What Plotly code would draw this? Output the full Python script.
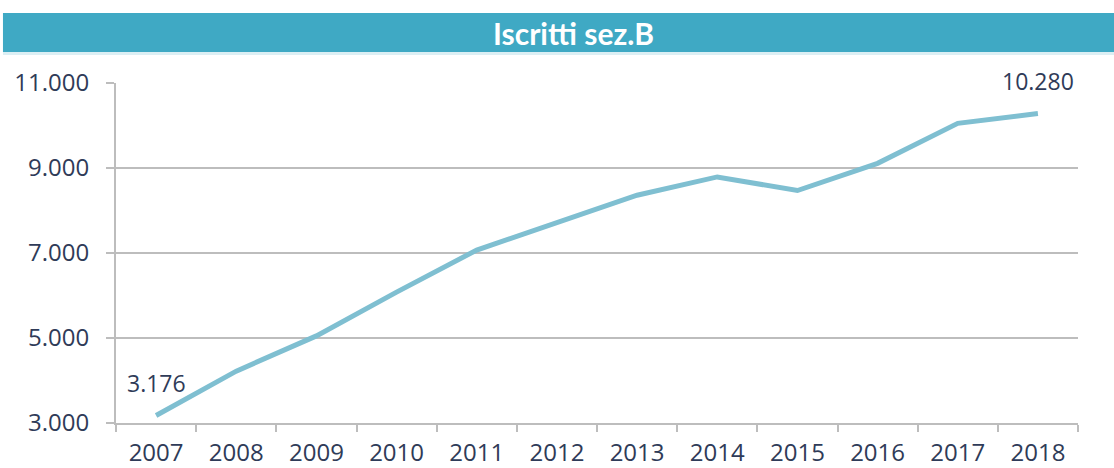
import plotly.graph_objects as go

years = ["2007", "2008", "2009", "2010", "2011", "2012", "2013", "2014", "2015", "2016", "2017", "2018"]
iscritti = [3176, 4220, 5050, 6080, 7070, 7730, 8360, 8790, 8470, 9110, 10050, 10280]
labels = ["3.176", "10.280"]
y_ticks = [3000, 5000, 7000, 9000, 11000]
y_tick_text = ["3.000", "5.000", "7.000", "9.000", "11.000"]
title_text = "Iscritti sez.B"

TEXT = "#2F3B58"
GRID = "#BDBDBD"
LINE = "#7FBFD1"
BAR = "#3FA9C4"

fig = go.Figure()
fig.add_trace(go.Scatter(
    x=years, y=iscritti, mode="lines",
    line=dict(color=LINE, width=5),
    hoverinfo="skip", showlegend=False,
))

for idx, lab in zip([0, len(years) - 1], labels):
    fig.add_annotation(
        x=idx, y=iscritti[idx], text=lab, showarrow=False,
        yshift=33, xanchor="center", yanchor="middle",
        font=dict(family="Open Sans", size=23, color=TEXT),
    )

fig.add_shape(type="rect", xref="paper", yref="paper",
              x0=-0.1175, x1=1.04, y0=1.091, y1=1.206,
              fillcolor=BAR, line=dict(width=0), layer="below")
fig.add_shape(type="rect", xref="paper", yref="paper",
              x0=-0.1175, x1=1.04, y0=1.082, y1=1.091,
              fillcolor="#DCEFF4", line=dict(width=0), layer="below")
fig.add_annotation(
    xref="paper", yref="paper", x=0.4760, y=1.148, text="<b>" + title_text + "</b>",
    showarrow=False, xanchor="center", yanchor="middle",
    font=dict(family="Lato", size=30, color="white"),
)

fig.update_layout(
    width=1114, height=468,
    margin=dict(l=116, r=36, t=83, b=45),
    paper_bgcolor="white", plot_bgcolor="white",
    xaxis=dict(
        type="category", tickson="boundaries", ticks="outside", ticklen=7,
        tickcolor=GRID, tickwidth=2, showgrid=False,
        showline=True, linecolor=GRID, linewidth=2,
        tickfont=dict(family="Open Sans", size=24, color=TEXT),
        range=[-0.5, len(years) - 0.5],
        automargin=False, ticklabelstandoff=7,
    ),
    yaxis=dict(
        range=[3000, 11000], tickvals=y_ticks, ticktext=y_tick_text,
        ticks="outside", ticklen=8, tickcolor=GRID, tickwidth=2,
        showgrid=True, gridcolor=GRID, gridwidth=2,
        showline=True, linecolor=GRID, linewidth=2,
        zeroline=False, automargin=False, ticklabelstandoff=12,
        tickfont=dict(family="Open Sans", size=24, color=TEXT),
    ),
)

fig.write_html("out.html", config={"displayModeBar": False},
               post_script="document.body.style.margin='0';")
